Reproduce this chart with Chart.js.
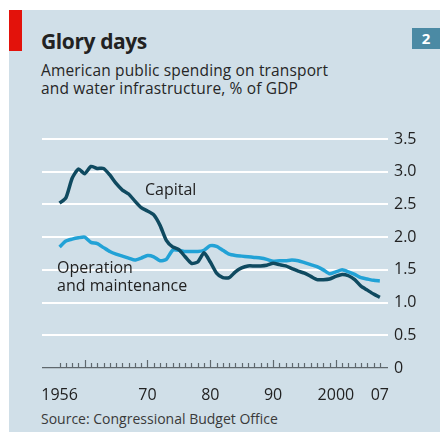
<!DOCTYPE html>
<html>
<head>
<meta charset="utf-8">
<script src="https://cdn.jsdelivr.net/npm/chart.js@4"></script>
<style>
  body { margin: 0; background: #fff; font-family: "Open Sans", sans-serif; }
  #wrap { position: relative; width: 440px; height: 432px; overflow: hidden; }
  #panel { position: absolute; left: 9px; top: 10px; right: 0; bottom: 0; background: #d0dfe8; }
  #redbar { position: absolute; left: 9px; top: 10px; width: 13px; height: 41px; background: #e3120b; }
  #num { position: absolute; left: 412px; top: 28px; width: 28px; height: 21px; background: #4b8aa4;
         color: #fff; font-weight: bold; font-size: 15px; line-height: 21px; text-align: center; }
  #title { position: absolute; left: 41px; top: 29px; font-size: 21px; font-weight: bold; color: #222;
           line-height: 24px; letter-spacing: -0.4px; }
  #sub { position: absolute; left: 41px; top: 61px; font-size: 15.5px; line-height: 18px; color: #262626;
         letter-spacing: 0.15px; }
  #source { position: absolute; left: 41px; top: 410px; font-size: 14px; line-height: 18px; color: #3a3a3a; }
  canvas { position: absolute; left: 0; top: 0; }
</style>
</head>
<body>
<div id="wrap">
  <div id="panel"></div>
  <div id="redbar"></div>
  <div id="num">2</div>
  <div id="title">Glory days</div>
  <div id="sub">American public spending on transport<br>and water infrastructure, % of GDP</div>
  <div id="source">Source: Congressional Budget Office</div>
  <canvas id="line-chart" width="440" height="432"></canvas>
</div>
<script>
const years = [];
for (let y = 1956; y <= 2007; y++) years.push(y);

const capital = [2.52,2.60,2.90,3.04,2.97,3.08,3.05,3.05,2.95,2.82,
  2.72,2.66,2.55,2.45,2.40,2.34,2.18,1.95,1.85,1.81,
  1.70,1.60,1.62,1.76,1.62,1.45,1.38,1.38,1.47,1.53,
  1.56,1.56,1.56,1.57,1.60,1.58,1.56,1.52,1.48,1.45,
  1.40,1.35,1.35,1.36,1.40,1.43,1.41,1.35,1.25,1.19,
  1.13,1.08];

const operation = [1.85,1.94,1.97,1.99,2.00,1.92,1.90,1.84,1.78,1.74,
  1.71,1.68,1.65,1.68,1.72,1.70,1.64,1.66,1.80,1.80,
  1.78,1.78,1.78,1.80,1.87,1.86,1.80,1.74,1.72,1.71,
  1.70,1.69,1.68,1.66,1.63,1.64,1.64,1.65,1.64,1.61,
  1.58,1.55,1.50,1.44,1.47,1.50,1.47,1.43,1.38,1.36,
  1.34,1.33];

const xLabels = {1956: '1956', 1970: '70', 1980: '80', 1990: '90', 2000: '2000', 2007: '07'};
const yTicks = [0, 0.5, 1, 1.5, 2, 2.5, 3, 3.5];

const font = '"Open Sans", sans-serif';

// small year ticks standing on the zero line, taller ones every decade
const yearTicks = {
  id: 'yearTicks',
  afterDatasetsDraw(chart) {
    const ctx = chart.ctx, x = chart.scales.x, y = chart.scales.y;
    const base = y.getPixelForValue(0);
    ctx.save();
    ctx.strokeStyle = '#5f686d';
    ctx.lineWidth = 1.2;
    years.forEach(yr => {
      const px = Math.round(x.getPixelForValue(yr)) + 0.5;
      const h = yr % 10 === 0 ? 8 : 5;
      ctx.beginPath();
      ctx.moveTo(px, base);
      ctx.lineTo(px, base - h);
      ctx.stroke();
    });
    ctx.restore();
  }
};

// series names written next to the lines
const seriesLabels = {
  id: 'seriesLabels',
  afterDatasetsDraw(chart) {
    const ctx = chart.ctx, x = chart.scales.x, y = chart.scales.y;
    ctx.save();
    ctx.font = '16px ' + font;
    ctx.fillStyle = '#222';
    ctx.textBaseline = 'middle';
    ctx.fillText('Capital', x.getPixelForValue(1969.6), y.getPixelForValue(2.72));
    ctx.fillText('Operation', x.getPixelForValue(1955.6), y.getPixelForValue(1.52));
    ctx.fillText('and maintenance', x.getPixelForValue(1955.6), y.getPixelForValue(1.24));
    ctx.restore();
  }
};

new Chart(document.getElementById('line-chart'), {
  type: 'line',
  data: {
    labels: years,
    datasets: [{
        data: capital.map((v, i) => ({x: years[i], y: v})),
        label: 'Capital',
        borderColor: '#0f4a60',
        borderWidth: 3.5,
        pointRadius: 0,
        tension: 0.2,
        fill: false
      }, {
        data: operation.map((v, i) => ({x: years[i], y: v})),
        label: 'Operation and maintenance',
        borderColor: '#22a2d6',
        borderWidth: 3.5,
        pointRadius: 0,
        tension: 0.2,
        fill: false
      }
    ]
  },
  options: {
    responsive: false,
    animation: false,
    layout: { padding: { left: 42, top: 139, right: 0, bottom: 0 } },
    plugins: { legend: { display: false }, tooltip: { enabled: false } },
    scales: {
      x: {
        type: 'linear',
        min: 1953.2,
        max: 2008.3,
        afterBuildTicks: s => { s.ticks = Object.keys(xLabels).map(k => ({value: +k})); },
        afterFit: s => { s.height = 64; },
        grid: { display: false },
        border: { display: false },
        ticks: {
          autoSkip: false,
          maxRotation: 0,
          padding: 10,
          color: '#222',
          font: { family: font, size: 16 },
          callback: v => xLabels[v]
        }
      },
      y: {
        position: 'right',
        min: 0,
        max: 3.5,
        afterBuildTicks: s => { s.ticks = yTicks.map(v => ({value: v})); },
        afterFit: s => { s.width = 52; },
        border: { display: false },
        grid: {
          drawTicks: false,
          color: c => c.tick.value === 0 ? '#5f686d' : '#ffffff',
          lineWidth: c => c.tick.value === 0 ? 1.3 : 2
        },
        ticks: {
          padding: 6,
          color: '#222',
          font: { family: font, size: 16 },
          callback: v => v === 0 ? '0' : v.toFixed(1)
        }
      }
    }
  },
  plugins: [yearTicks, seriesLabels]
});
</script>
</body>
</html>
